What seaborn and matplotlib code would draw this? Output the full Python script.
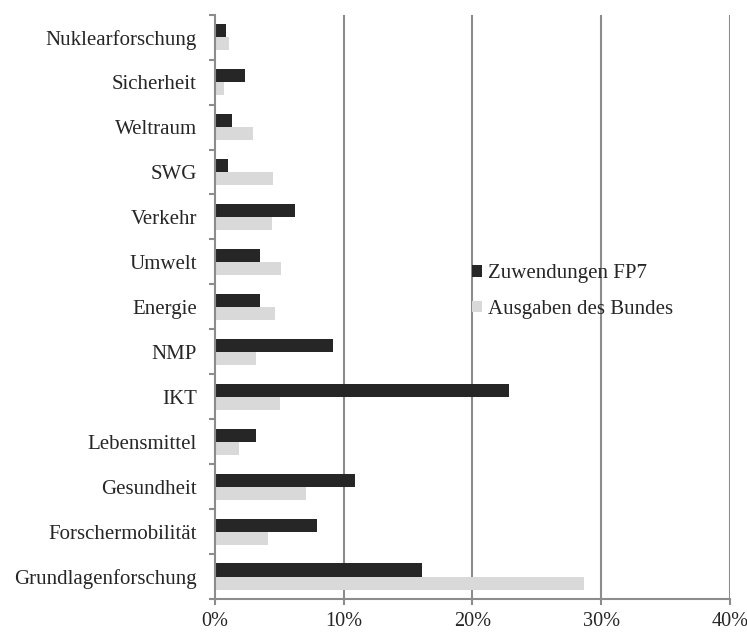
import matplotlib
matplotlib.use("Agg")
import matplotlib.pyplot as plt
import seaborn as sns
import pandas as pd
import numpy as np
from matplotlib.ticker import FuncFormatter, FixedLocator

categories = ["Nuklearforschung", "Sicherheit", "Weltraum", "SWG", "Verkehr", "Umwelt",
              "Energie", "NMP", "IKT", "Lebensmittel", "Gesundheit", "Forschermobilität",
              "Grundlagenforschung"]
fp7 = [0.83, 2.3, 1.35, 0.98, 6.24, 3.52, 3.5, 9.17, 22.8, 3.2, 10.9, 7.9, 16.1]
bund = [1.09, 0.67, 2.98, 4.5, 4.4, 5.13, 4.64, 3.2, 5.07, 1.86, 7.1, 4.14, 28.7]
series = ["Zuwendungen FP7", "Ausgaben des Bundes"]
xticks = [0, 10, 20, 30, 40]

df = pd.DataFrame({
    "Kategorie": categories * 2,
    "Wert": fp7 + bund,
    "Serie": [series[0]] * len(categories) + [series[1]] * len(categories),
})

sns.set_style("white")
plt.rcParams["font.family"] = ["Liberation Serif", "DejaVu Serif"]

fig = plt.figure(figsize=(7.47, 6.33), dpi=100)
ax = fig.add_axes([0.2878, 0.0537, 0.6894, 0.9231])

sns.barplot(data=df, y="Kategorie", x="Wert", hue="Serie", order=categories,
            hue_order=series, palette=["#262626", "#d9d9d9"], width=0.58,
            saturation=1, ax=ax, orient="h", legend=True)

for p in ax.patches:
    p.set_linewidth(0)

grid_c = "#8c8c8c"
fs = 15.0
ax.set_xlim(0, 40)
ax.set_ylim(len(categories) - 0.5, -0.5)
ax.set_xticks(xticks)
ax.xaxis.set_major_formatter(FuncFormatter(lambda v, pos: f"{int(v)}%"))
ax.set_xlabel("")
ax.set_ylabel("")
for v in xticks[1:]:
    ax.axvline(v, color=grid_c, lw=1.5, zorder=0)

# y ticks: marks at category boundaries, labels at centres
ax.yaxis.set_major_locator(FixedLocator(np.arange(-0.5, len(categories), 1.0)))
ax.yaxis.set_major_formatter(FuncFormatter(lambda v, pos: ""))
ax.yaxis.set_minor_locator(FixedLocator(np.arange(len(categories))))
ax.set_yticklabels(categories, minor=True)
ax.tick_params(axis="y", which="major", length=4.5, width=1.5, color=grid_c, direction="out", left=True)
ax.tick_params(axis="y", which="minor", length=0, pad=13, labelsize=fs, left=True)
ax.tick_params(axis="x", which="major", length=4, width=1.5, color=grid_c, direction="out",
               pad=5, labelsize=14.6, bottom=True)

for s in ["top", "right"]:
    ax.spines[s].set_visible(False)
for s in ["left", "bottom"]:
    ax.spines[s].set_color(grid_c)
    ax.spines[s].set_linewidth(1.5)

leg = ax.legend(loc="upper left", bbox_to_anchor=(0.499, 0.573), frameon=False,
                fontsize=fs, handlelength=0.5, handleheight=0.5, handletextpad=0.25,
                labelspacing=0.8, borderaxespad=0, borderpad=0)

fig.savefig("out.png", dpi=100)
